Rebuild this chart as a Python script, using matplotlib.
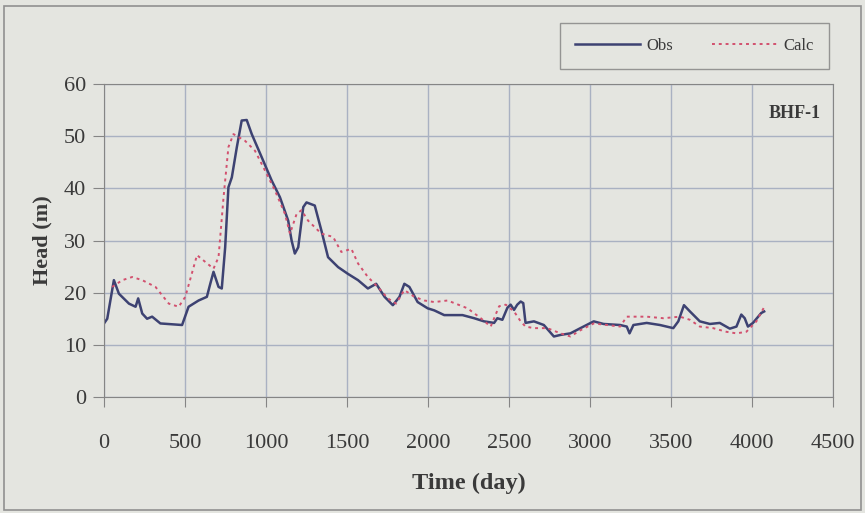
import matplotlib.pyplot as plt

# Observed head (BHF-1)
obs_day = [0, 20, 61, 92, 154, 195, 211, 236, 266, 297, 348, 482, 522, 584, 635, 656, 676,
           707, 727, 748, 768, 789, 820, 850, 881, 912, 973, 1035, 1086, 1137, 1158, 1178,
           1199, 1230, 1250, 1301, 1342, 1383, 1445, 1506, 1568, 1629, 1680, 1732, 1783,
           1824, 1854, 1885, 1936, 1998, 2039, 2100, 2213, 2285, 2346, 2408, 2428, 2459,
           2490, 2510, 2531, 2551, 2572, 2588, 2602, 2654, 2715, 2777, 2818, 2879, 2941,
           3023, 3084, 3186, 3227, 3244, 3268, 3350, 3432, 3514, 3545, 3580, 3617, 3678,
           3740, 3801, 3863, 3904, 3934, 3955, 3975, 4006, 4057, 4075]
obs_head = [14.1, 15.0, 22.4, 19.8, 17.9, 17.3, 18.9, 16.0, 15.0, 15.4, 14.1, 13.8, 17.3,
            18.5, 19.2, 21.7, 24.0, 21.1, 20.8, 28.7, 40.2, 42.1, 47.9, 53.0, 53.1, 50.4,
            46.0, 41.5, 38.3, 33.8, 30.0, 27.5, 28.7, 36.4, 37.3, 36.7, 31.9, 26.8, 24.9,
            23.6, 22.4, 20.8, 21.7, 19.2, 17.6, 19.2, 21.7, 21.1, 18.2, 17.0, 16.6, 15.7,
            15.7, 15.1, 14.5, 14.2, 15.1, 14.8, 17.1, 17.7, 16.7, 17.7, 18.3, 18.0, 14.2,
            14.5, 13.8, 11.6, 11.9, 12.2, 13.2, 14.5, 14.0, 13.8, 13.5, 12.2, 13.8, 14.2,
            13.8, 13.2, 14.5, 17.6, 16.4, 14.5, 14.0, 14.2, 13.1, 13.5, 15.8, 15.1, 13.5,
            14.2, 16.1, 16.4]

# Calculated head
calc_day = [50, 113, 174, 236, 318, 400, 461, 502, 574, 625, 676, 707, 738, 768, 799, 871,
            932, 994, 1055, 1117, 1148, 1189, 1219, 1260, 1342, 1414, 1465, 1527, 1568, 1629,
            1690, 1752, 1803, 1854, 1916, 1977, 2039, 2121, 2244, 2326, 2387, 2439, 2480,
            2531, 2572, 2602, 2654, 2736, 2818, 2879, 2941, 3023, 3105, 3186, 3227, 3350,
            3453, 3555, 3617, 3678, 3760, 3842, 3904, 3965, 4027, 4078]
calc_head = [21.1, 22.4, 23.0, 22.4, 21.1, 17.9, 17.3, 19.2, 27.2, 25.9, 24.6, 26.8, 38.3,
             47.9, 50.4, 49.1, 47.2, 43.4, 39.6, 35.1, 31.3, 35.1, 35.8, 33.8, 31.3, 30.7,
             27.8, 28.4, 25.6, 23.0, 21.1, 18.9, 17.9, 20.5, 19.2, 18.5, 18.2, 18.5, 17.0,
             15.1, 13.5, 17.4, 17.7, 16.4, 14.5, 13.5, 13.2, 13.2, 12.2, 11.6, 12.8, 14.1,
             13.8, 13.5, 15.4, 15.4, 15.1, 15.4, 14.8, 13.5, 13.2, 12.5, 12.2, 12.5, 14.5,
             17.4]

bg = '#e4e5e0'
txt = '#3a3a3a'
plt.rcParams['font.family'] = ['Liberation Serif', 'DejaVu Serif']

fig = plt.figure(figsize=(8.65, 5.13), dpi=100, facecolor=bg)
ax = fig.add_axes([104 / 865, 1 - 397 / 513, (833 - 104) / 865, (397 - 84) / 513])
ax.set_facecolor(bg)

ax.plot(obs_day, obs_head, color='#3d4272', lw=1.8, label='Obs')
ax.plot(calc_day, calc_head, color='#d2506e', lw=1.4, ls=(0, (1.5, 2)), label='Calc')

ax.set_xlim(0, 4500)
ax.set_ylim(0, 60)
ax.set_xticks(range(0, 4501, 500))
ax.set_yticks(range(0, 61, 10))
ax.grid(True, color='#a9b1c2', lw=1)
ax.set_axisbelow(True)
for s in ax.spines.values():
    s.set_color('#858585')
ax.tick_params(axis='x', direction='out', length=7, pad=20, labelsize=16,
               color='#858585', labelcolor=txt)
ax.tick_params(axis='y', direction='out', length=8, pad=5, labelsize=16,
               color='#858585', labelcolor=txt)

ax.set_xlabel('Time (day)', fontsize=17.5, fontweight='bold', labelpad=14, color=txt)
ax.set_ylabel('Head (m)', fontsize=16, fontweight='bold', labelpad=8, color=txt)
ax.text(0.983, 0.905, 'BHF-1', transform=ax.transAxes, ha='right', va='center',
        fontsize=13, fontweight='bold', color=txt)

leg = fig.legend(loc='upper right', bbox_to_anchor=(829 / 865, 1 - 23 / 513), ncol=2,
                 frameon=True, fancybox=False, fontsize=12, handlelength=3.9,
                 columnspacing=2.3, borderpad=0.9, borderaxespad=0, handletextpad=0.4)
leg.get_frame().set_facecolor(bg)
leg.get_frame().set_edgecolor('#808080')
for t in leg.get_texts():
    t.set_color(txt)

fig.patches.append(plt.Rectangle((0.005, 0.006), 0.99, 0.982, transform=fig.transFigure,
                                 fill=False, edgecolor='#909090', lw=1.2))

fig.savefig('out.png', dpi=100, facecolor=bg)
